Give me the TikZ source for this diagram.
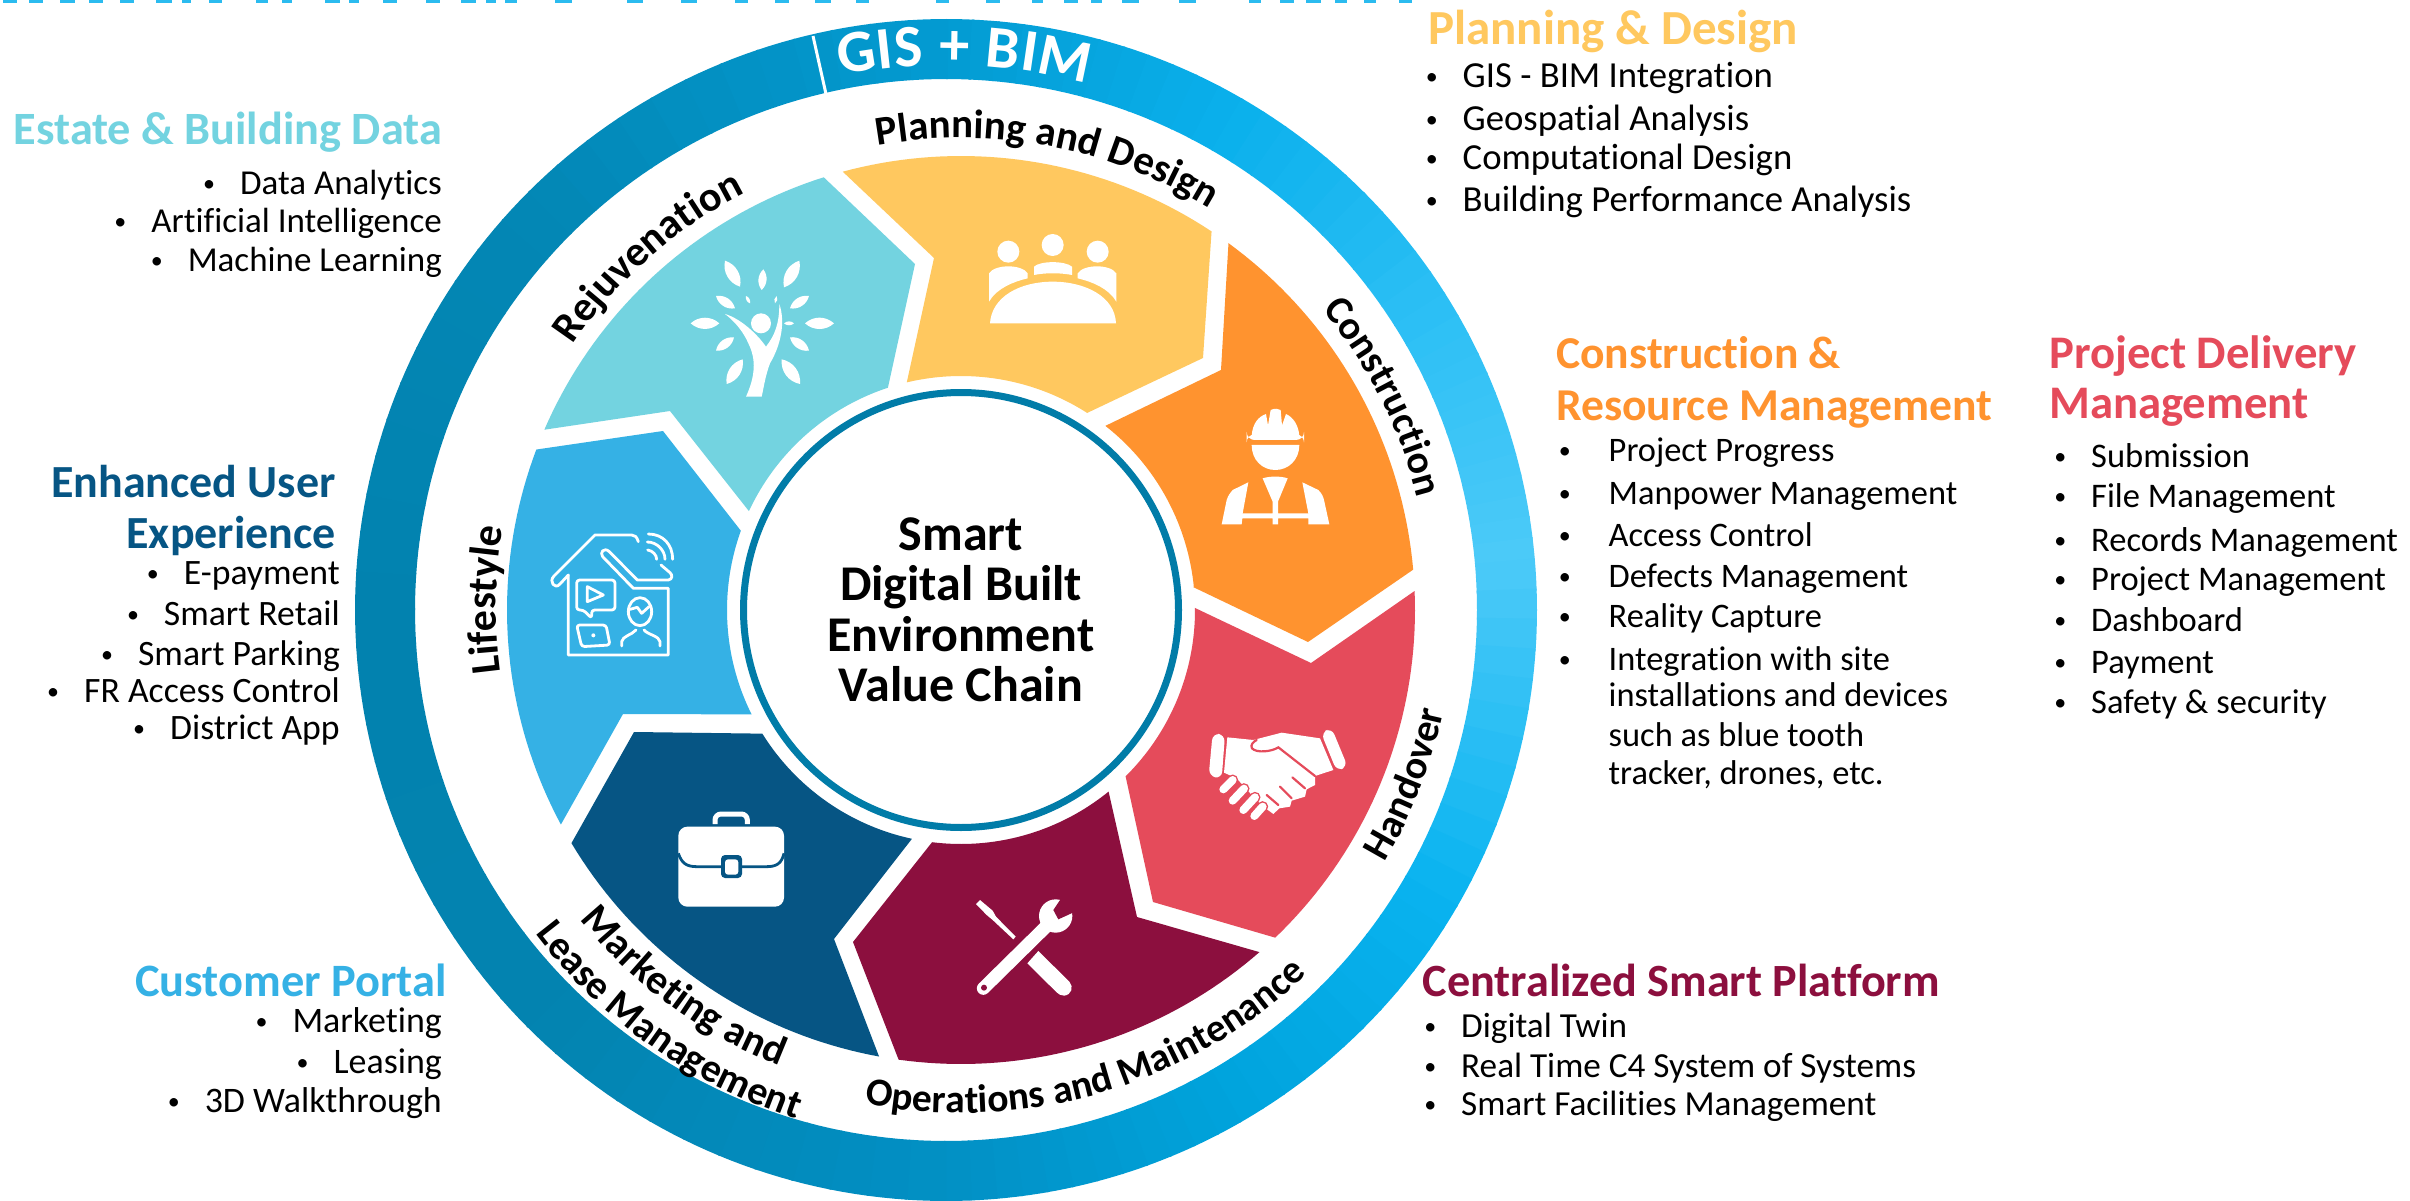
\documentclass[tikz,border=0pt]{standalone}
\usepackage{fontspec}
\setmainfont{Carlito}[Ligatures=NoCommon]
\usetikzlibrary{decorations.text}
\definecolor{cRej}{HTML}{73D3E0}
\definecolor{cPlan}{HTML}{FFC85F}
\definecolor{cCon}{HTML}{FF932F}
\definecolor{cHan}{HTML}{E54B5B}
\definecolor{cOps}{HTML}{8C0F3E}
\definecolor{cMkt}{HTML}{065584}
\definecolor{cLif}{HTML}{35B1E5}
\definecolor{cRing}{HTML}{017CA8}
\definecolor{g0}{HTML}{4CCAF8}
\definecolor{g1}{HTML}{09B3F0}
\definecolor{g2}{HTML}{00A3DC}
\definecolor{g3}{HTML}{0290C4}
\definecolor{g4}{HTML}{0383B0}
\definecolor{g5}{HTML}{0282AF}
\definecolor{g6}{HTML}{0387B5}
\definecolor{g7}{HTML}{0393C7}
\definecolor{g8}{HTML}{039BD2}
\definecolor{g9}{HTML}{0AB0EC}
\definecolor{g10}{HTML}{2EC0F5}
\definecolor{cTitleA}{HTML}{2BBBEF}
\newcommand{\lblz}[1]{\fontsize{#1}{46}\selectfont\bfseries}
\newcommand{\gisf}{\fontsize{60}{64}\selectfont\bfseries}
\newcommand{\hdz}[1]{\fontsize{#1}{50}\selectfont\bfseries}
\newcommand{\lsz}[1]{\fontsize{#1}{40}\selectfont}
\newcommand{\ctrf}{\fontsize{50}{50.5}\selectfont\bfseries}
\newcommand{\bul}[1][25pt]{\llap{\raisebox{3pt}{\fontsize{24}{24}\selectfont •}\hspace{#1}}}
\newcommand{\ringseg}[4]{%
  \pgfmathsetmacro{\stepa}{(#2-#1)/12}%
  \foreach \k in {0,...,11}{%
    \pgfmathsetmacro{\pp}{100*(\k+.5)/12}%
    \pgfmathsetmacro{\aa}{#1+\k*\stepa}%
    \pgfmathsetmacro{\bb}{\aa+\stepa+0.2}%
    \fill[#4!\pp!#3] plot[domain=\aa:\bb,samples=4]({946+591*cos(\x)},{610+591*sin(\x)})
      -- plot[domain=\bb:\aa,samples=4]({946+531*cos(\x)},{610+531*sin(\x)}) -- cycle;
  }}
\newcommand{\leafshape}[4]{\fill[white] (#1,#2) to[bend left=42] (#3,#4) to[bend left=42] (#1,#2);}
\tikzset{
  lbl/.style 2 args={decorate,decoration={text along path,text align={center},text={|\lblz{#1}|#2}}},
  gisl/.style={decorate,decoration={text along path,text align={fit to path},text={|\gisf\color{white}|#1}}},
  hdl/.style 2 args={inner sep=0pt,anchor=base west,font=\hdz{#2},text=#1,yshift=-1.5pt},
  hdr/.style 2 args={inner sep=0pt,anchor=base east,font=\hdz{#2},text=#1,yshift=-1.5pt},
  lsl/.style={inner sep=0pt,anchor=base west,font=\lsz{#1},yshift=-1.5pt},
  lsr/.style={inner sep=0pt,anchor=base east,font=\lsz{#1},yshift=-1.5pt},
  ctr/.style={inner sep=0pt,anchor=base,font=\ctrf,yshift=-1.5pt},
  iconline/.style={draw=white,line width=2.8pt,line cap=round,line join=round}
}
\begin{document}
\begin{tikzpicture}[x=1pt,y=-1pt]
\useasboundingbox (0,0) rectangle (2410,1201);
\fill[white] (0,0) rectangle (2410,1201);
% cropped title: only the feet of its letters reach the picture
\foreach \a/\w in {3/15,30/15,63/15,93/15,125/15,163/17,190/10,218/14,268/12,295/10,340/15,365/10,400/15,445/15,482/15,508/10,528/12,580/18,655/17,712/16,768/14,810/15,852/16,895/13,978/14,1030/15,1078/12,1112/15,1140/12,1172/18,1232/18,1305/13,1338/14,1365/15,1395/13,1425/13,1462/13}
  \fill[cTitleA] ({\a/1.045},0) rectangle ({(\a+\w)/1.045},3);
% outer ring
\ringseg{-90}{-60}{g8}{g9}
\ringseg{-60}{-30}{g9}{g10}
\ringseg{-30}{-5}{g10}{g0}
\ringseg{-5}{30}{g0}{g1}
\ringseg{30}{60}{g1}{g2}
\ringseg{60}{90}{g2}{g3}
\ringseg{90}{135}{g3}{g4}
\ringseg{135}{180}{g4}{g5}
\ringseg{180}{225}{g5}{g6}
\ringseg{225}{270}{g6}{g8}
\draw[white,line width=3pt] (813,36) -- (826,94);
\path[gisl={GIS + BIM}] plot[domain=258.8:285,samples=30]({946+545*cos(\x)},{610+545*sin(\x)});
% petals
\fill[cPlan] plot[domain=254.9:303.5,samples=40]({961+454*cos(\x)},{610+454*sin(\x)}) -- (1203,358) -- (1087,413)
  -- plot[domain=-57.4:-103.4,samples=40]({961+234*cos(\x)},{610+234*sin(\x)}) -- (934,258) -- cycle;
\fill[cCon] plot[domain=-53.9:-5.1,samples=40]({961+454*cos(\x)},{610+454*sin(\x)}) -- (1308,642) -- (1193,587)
  -- plot[domain=-5.7:-51.9,samples=40]({961+234*cos(\x)},{610+234*sin(\x)}) -- (1221,370) -- cycle;
\fill[cHan] plot[domain=-2.4:46.2,samples=40]({961+454*cos(\x)},{610+454*sin(\x)}) -- (1153,902)
  -- plot[domain=45.3:-0.5,samples=40]({961+234*cos(\x)},{610+234*sin(\x)}) -- (1311,663) -- cycle;
\fill[cOps] plot[domain=48.9:97.9,samples=40]({961+454*cos(\x)},{610+454*sin(\x)}) -- (853,942)
  -- plot[domain=97.1:50.9,samples=40]({961+234*cos(\x)},{610+234*sin(\x)}) -- (1137,917) -- cycle;
\fill[cMkt] plot[domain=100.4:149.1,samples=40]({961+454*cos(\x)},{610+454*sin(\x)}) -- (634,732)
  -- plot[domain=148.1:102.1,samples=40]({961+234*cos(\x)},{610+234*sin(\x)}) -- (834,939) -- cycle;
\fill[cLif] plot[domain=151.8:200.7,samples=40]({961+454*cos(\x)},{610+454*sin(\x)}) -- (663,431)
  -- plot[domain=199.8:153.5,samples=40]({961+234*cos(\x)},{610+234*sin(\x)}) -- (623,714) -- cycle;
\fill[cRej] plot[domain=203.4:252.4,samples=40]({961+454*cos(\x)},{610+454*sin(\x)}) -- (915,264)
  -- plot[domain=251.8:205,samples=40]({961+234*cos(\x)},{610+234*sin(\x)}) -- (670,411) -- cycle;
% centre circle
\draw[cRing,line width=7pt,fill=white] (961,610) circle[x radius=217.5pt,y radius=217.5pt];
\node[ctr] (c1) at (961,548.5) {Smart};
\node[ctr] (c2) at (961,599) {Digital Built};
\node[ctr] (c3) at (961,649.5) {Environment};
\node[ctr] (c4) at (961,700) {Value Chain};
% curved labels (paths run 4 degrees past the word at each end; the word is centred)
\path[lbl={41}{Planning and Design}] plot[domain=-104.4:-54,samples=40]({961+472*cos(\x)},{610+472*sin(\x)});
\path[lbl={40}{Construction}] plot[domain=-43:-10.5,samples=30]({961+470*cos(\x)},{610+470*sin(\x)});
\path[lbl={40}{Handover}] plot[domain=34.6:8,samples=30]({961+493*cos(\x)},{610+493*sin(\x)});
\path[lbl={39.5}{Operations and Maintenance}] plot[domain=104:43.5,samples=50]({961+503*cos(\x)},{610+503*sin(\x)});
\path[lbl={41}{Marketing and}] plot[domain=144.6:108,samples=30]({961+491*cos(\x)},{610+491*sin(\x)});
\path[lbl={40}{Lease Management}] plot[domain=146.7:104,samples=40]({961+535*cos(\x)},{610+535*sin(\x)});
\path[lbl={42}{Lifestyle}] plot[domain=168.5:194,samples=30]({961+465*cos(\x)},{610+465*sin(\x)});
\path[lbl={42}{Rejuvenation}] plot[domain=211:246,samples=30]({961+470*cos(\x)},{610+470*sin(\x)});
% meeting icon
\begin{scope}[shift={(960,210)},scale=1/3]
\fill[white] (145,125) circle[x radius=33pt,y radius=33pt];
\fill[white] (278,105) circle[x radius=33pt,y radius=33pt];
\fill[white] (413,125) circle[x radius=33pt,y radius=33pt];
\fill[white] (90,340) .. controls (95,260) and (180,215) .. (278,215) .. controls (376,215) and (465,260) .. (468,340) -- cycle;
\fill[white] (222,195) -- (222,170) .. controls (240,152) and (316,152) .. (336,170) -- (336,195) .. controls (300,188) and (256,188) .. (222,195) -- cycle;
\fill[white] (87,275) -- (87,190) .. controls (105,162) and (185,162) .. (203,190) -- (203,205) .. controls (160,215) and (110,235) .. (87,275) -- cycle;
\fill[white] (469,275) -- (469,190) .. controls (451,162) and (371,162) .. (353,190) -- (353,205) .. controls (396,215) and (446,235) .. (469,275) -- cycle;
\end{scope}
% worker icon
\begin{scope}[shift={(1040,200)},scale=1/3]
\fill[white] (635,707) .. controls (638,670) and (655,650) .. (678,642) -- (684,676) -- (692,630) .. controls (705,624) and (715,626) .. (722,630) -- (726,676) -- (738,642) .. controls (760,652) and (775,675) .. (778,707) -- cycle;
\fill[white,rounded corners=8pt] (620,703) rectangle (792,720);
\fill[white] (635,735) -- (778,735) .. controls (778,780) and (745,810) .. (706,810) .. controls (667,810) and (635,780) .. (635,735) -- cycle;
\fill[white] (668,835) .. controls (690,828) and (722,828) .. (743,835) -- (714,905) -- (714,940) -- (805,940) -- (787,847) -- (835,870) .. controls (845,880) and (850,890) .. (852,900) -- (868,973) -- (805,973) -- (805,955) -- (714,955) -- (714,973) -- (698,973) -- (698,955) -- (607,955) -- (605,973) -- (545,973) -- (560,900) .. controls (565,885) and (570,880) .. (578,870) -- (625,847) -- (608,940) -- (698,940) -- (698,905) -- cycle;
\end{scope}
% handshake icon
\begin{scope}[shift={(1040,540)},scale=1/3]
\fill[white,rounded corners=7pt] (518,580) -- (555,584) -- (545,716) -- (506,708) -- cycle;
\fill[white,rounded corners=7pt] (843,578) -- (875,564) -- (923,680) -- (890,693) -- cycle;
\fill[white] (562,592) -- (640,600) -- (725,578) -- (840,595) -- (880,690) -- (825,708) -- (825,735) -- (800,748) -- (795,770) -- (755,782) -- (750,800) -- (718,805) -- (700,822) -- (670,800) -- (640,770) -- (590,715) -- (552,698) -- cycle;
\draw[cHan,line width=2.2pt,line cap=round] (825,708) -- (715,622) .. controls (695,635) and (650,640) .. (636,625) .. controls (630,615) and (640,605) .. (650,600);
\draw[cHan,line width=2.2pt,line cap=round] (757,712) -- (795,745);
\draw[cHan,line width=2.2pt,line cap=round] (720,740) -- (755,775);
\draw[cHan,line width=2.2pt,line cap=round] (680,765) -- (715,795);
\foreach \xa/\ya/\xb/\yb in {550/748/578/720,578/782/612/746,610/810/645/772,643/828/668/800}{
  \draw[cHan,line width=11pt,line cap=round] (\xa,\ya) -- (\xb,\yb);
  \draw[white,line width=8pt,line cap=round] (\xa,\ya) -- (\xb,\yb);
}
\end{scope}
% wrench and screwdriver, briefcase
\begin{scope}[shift={(670,800)},scale=1/3]
\fill[white] (918,312) -- (930,300) -- (968,332) -- (978,350) -- (1037,410) -- (1030,418) -- (968,360) -- (950,345) -- cycle;
\fill[white] (1105,453) -- (1198,545) .. controls (1212,560) and (1205,585) .. (1182,587) .. controls (1172,587) and (1165,582) .. (1160,577) -- (1072,490) -- cycle;
\draw[white,line width=13pt,line cap=round] (940,565) -- (1130,378);
\fill[white] (1157,348) circle[x radius=50pt,y radius=50pt];
\fill[cOps] (1177,290) -- (1150,330) -- (1165,358) -- (1222,332) -- cycle;
\fill[cOps] (942,563) circle[x radius=9pt,y radius=9pt];
\fill[white,rounded corners=9pt] (25,80) rectangle (342,320);
\draw[white,line width=5pt,rounded corners=6pt] (135,72) -- (135,42) -- (232,42) -- (232,72);
\draw[cMkt,line width=2.8pt] (25,160) .. controls (35,190) and (50,200) .. (80,200) -- (290,200) .. controls (320,200) and (335,190) .. (342,160);
\fill[cMkt,rounded corners=4pt] (153,165) rectangle (216,234);
\fill[white,rounded corners=3pt] (165,178) rectangle (205,224);
\end{scope}
% house icon
\begin{scope}[shift={(500,400)},scale=1/3]
\draw[iconline] (205,525) -- (205,765) -- (505,765) -- (505,565) -- (400,565) -- (308,470) .. controls (298,458) and (312,440) .. (328,455) -- (412,540) -- (505,540) .. controls (518,538) and (518,525) .. (510,518) -- (483,495);
\draw[iconline] (415,425) .. controls (410,410) and (405,405) .. (395,405) -- (285,405) -- (162,528) .. controls (145,545) and (165,570) .. (180,552) -- (205,525);
\draw[iconline,rounded corners=3pt] (230,540) -- (345,540) -- (345,630) -- (275,630) -- (275,655) -- (250,630) -- (230,630) -- cycle;
\draw[iconline] (262,560) -- (310,585) -- (262,605) -- cycle;
\draw[iconline,rounded corners=3pt] (230,675) -- (318,675) -- (330,735) -- (245,740) -- cycle;
\fill[white] (280,706) circle[x radius=6pt,y radius=6pt];
\draw[iconline] (420,635) circle[x radius=35pt,y radius=42pt];
\draw[iconline] (390,628) -- (412,622) -- (425,640) -- (447,620);
\draw[iconline] (365,738) -- (365,725) .. controls (368,708) and (395,705) .. (408,690) (432,690) .. controls (445,705) and (478,708) .. (480,725) -- (480,738);
\draw[iconline] (445,402) .. controls (490,402) and (518,435) .. (518,478);
\draw[iconline] (442,426) .. controls (470,426) and (495,450) .. (495,478);
\draw[iconline] (443,450) .. controls (458,452) and (470,465) .. (470,478);
\end{scope}
% tree icon
\begin{scope}[shift={(660,200)},scale=1/3]
\leafshape{240}{260}{195}{182}
\leafshape{305}{270}{310}{208}
\leafshape{372}{262}{418}{182}
\leafshape{225}{325}{168}{288}
\leafshape{270}{310}{258}{288}
\leafshape{345}{310}{350}{288}
\leafshape{390}{325}{447}{288}
\leafshape{178}{370}{92}{370}
\leafshape{435}{370}{522}{370}
\leafshape{372}{370}{402}{370}
\leafshape{222}{412}{168}{452}
\leafshape{390}{412}{447}{452}
\leafshape{248}{478}{200}{552}
\leafshape{365}{478}{420}{552}
\fill[white] (303,370) circle[x radius=30pt,y radius=30pt];
\fill[white] (195,342) .. controls (240,355) and (290,400) .. (318,440) .. controls (345,405) and (358,370) .. (358,312) .. controls (378,370) and (360,440) .. (330,490) .. controls (315,530) and (310,570) .. (305,590) -- (258,590) .. controls (285,530) and (290,480) .. (265,430) .. controls (250,395) and (225,365) .. (195,342) -- cycle;
\end{scope}
% Estate
\node[hdr={cRej}{46.3}] (h1) at (442,143.5) {Estate \& Building Data};
\node[lsr=35] (a1) at (442,193) {\bul Data Analytics};
\node[lsr=35] (a2) at (442,231) {\bul Artificial Intelligence};
\node[lsr=35] (a3) at (442,270.5) {\bul Machine Learning};
% Enhanced
\node[hdr={cMkt}{46}] (h2a) at (336,496) {Enhanced User};
\node[hdr={cMkt}{46}] (h2b) at (336,547) {Experience};
\node[lsr=35.7] (b1) at (340,583) {\bul E-payment};
\node[lsr=35.7] (b2) at (340,624) {\bul Smart Retail};
\node[lsr=35.7] (b3) at (340,664) {\bul Smart Parking};
\node[lsr=35.7] (b4) at (340,700.5) {\bul FR Access Control};
\node[lsr=35.7] (b5) at (340,738) {\bul District App};
% Customer
\node[hdr={cLif}{46.4}] (h3) at (447,995) {Customer Portal};
\node[lsr=35.9] (d1) at (442,1031) {\bul Marketing};
\node[lsr=35.9] (d2) at (442,1072) {\bul Leasing};
\node[lsr=35.9] (d3) at (442,1111) {\bul 3D Walkthrough};
% Planning
\node[hdl={cPlan}{49}] (h4) at (1428,43) {Planning \& Design};
\node[lsl=36.7] (e1) at (1462.5,86) {\bul GIS - BIM Integration};
\node[lsl=36.7] (e2) at (1462.5,129) {\bul Geospatial Analysis};
\node[lsl=36.7] (e3) at (1462.5,168) {\bul Computational Design};
\node[lsl=36.7] (e4) at (1462.5,210.5) {\bul Building Performance Analysis};
% Construction
\node[hdl={cCon}{45.6}] (h5a) at (1556,367) {Construction \&};
\node[hdl={cCon}{45.6}] (h5b) at (1556,419) {Resource Management};
\node[lsl=34.4] (f1) at (1608.5,460) {\bul[38pt]Project Progress};
\node[lsl=34.4] (f2) at (1608.5,503) {\bul[38pt]Manpower Management};
\node[lsl=34.4] (f3) at (1608.5,545) {\bul[38pt]Access Control};
\node[lsl=34.4] (f4) at (1608.5,585.5) {\bul[38pt]Defects Management};
\node[lsl=34.4] (f5) at (1608.5,626) {\bul[38pt]Reality Capture};
\node[lsl=34.4] (f6) at (1608.5,669) {\bul[38pt]Integration with site};
\node[lsl=34.4] (f7) at (1608.5,705) {installations and devices};
\node[lsl=34.4] (f8) at (1608.5,745) {such as blue tooth};
\node[lsl=34.4] (f9) at (1608.5,783) {tracker, drones, etc.};
% Project Delivery
\node[hdl={cHan}{46.7}] (h6a) at (2049,367) {Project Delivery};
\node[hdl={cHan}{46.7}] (h6b) at (2049,417) {Management};
\node[lsl=34.5] (g1) at (2091,466) {\bul Submission};
\node[lsl=34.5] (g2) at (2091,506) {\bul File Management};
\node[lsl=34.5] (g3) at (2091,550) {\bul Records Management};
\node[lsl=34.5] (g4) at (2091,589) {\bul Project Management};
\node[lsl=34.5] (g5) at (2091,629.5) {\bul Dashboard};
\node[lsl=34.5] (g6) at (2091,672) {\bul Payment};
\node[lsl=34.5] (g7) at (2091,712) {\bul Safety \& security};
% Centralized
\node[hdl={cOps}{46.2}] (h7) at (1422.5,995) {Centralized Smart Platform};
\node[lsl=35.2] (k1) at (1461,1035.5) {\bul Digital Twin};
\node[lsl=35.2] (k2) at (1461,1076) {\bul Real Time C4 System of Systems};
\node[lsl=35.2] (k3) at (1461,1113.5) {\bul Smart Facilities Management};
\end{tikzpicture}
\end{document}
